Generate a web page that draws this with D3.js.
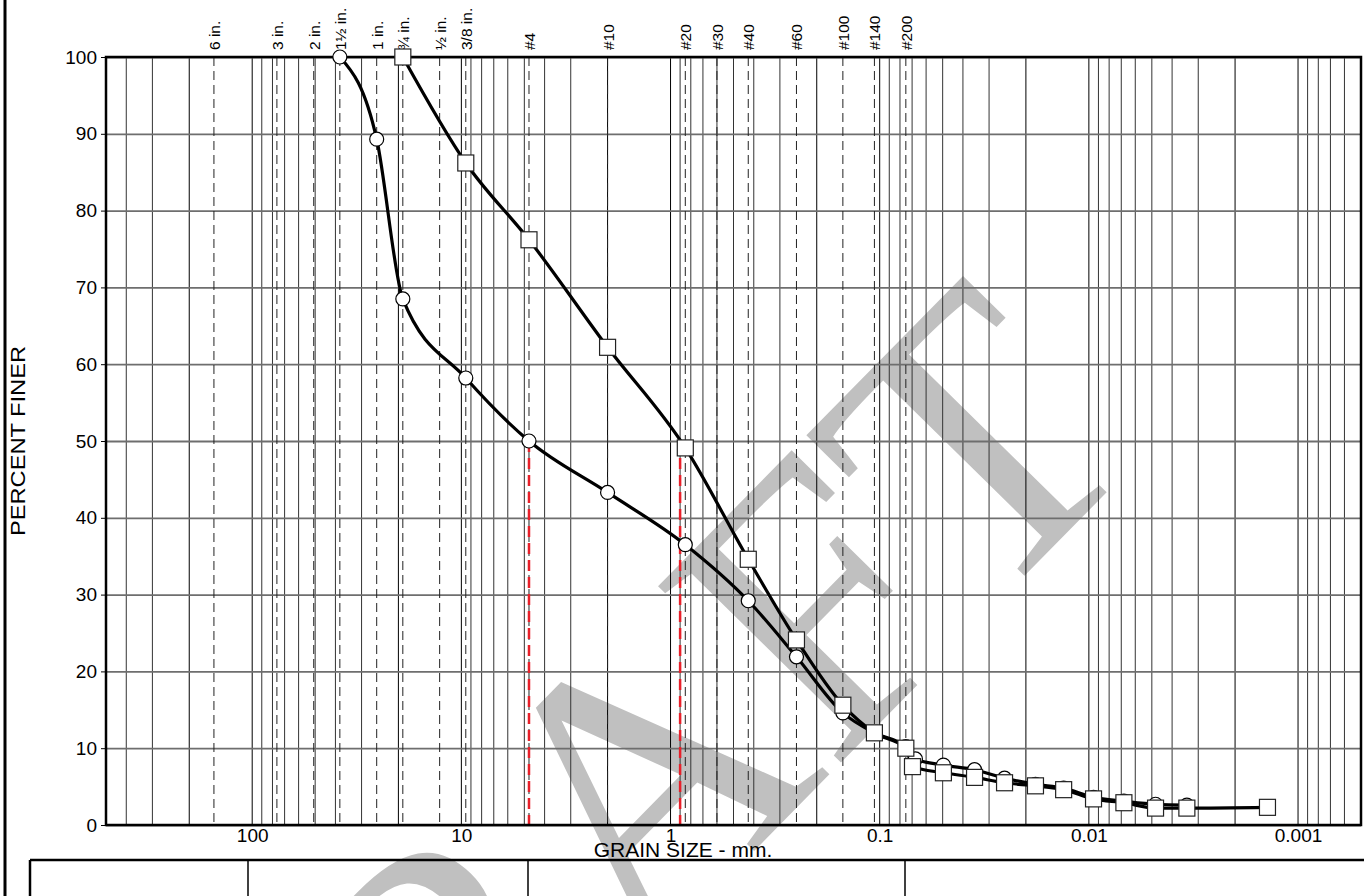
<!DOCTYPE html>
<html>
<head>
<meta charset="utf-8">
<script src="https://cdn.jsdelivr.net/npm/d3@7"></script>
<style>
  body { margin: 0; background: #fff; }
  svg { display: block; font-family: Arial, "Liberation Sans", sans-serif; }
</style>
</head>
<body>
<div id="chart"></div>
<script>
// Sieve openings (mm) and their labels along the top
const sieveSizes = [152.4, 76.2, 50.8, 38.1, 25.4, 19.05, 12.7, 9.525, 4.75, 2.0, 0.85, 0.6, 0.425, 0.25, 0.15, 0.106, 0.075];
const sieveLabels = ["6 in.", "3 in.", "2 in.", "1\u00BD in.", "1 in.", "\u00BE in.", "\u00BD in.", "3/8 in.", "#4", "#10", "#20", "#30", "#40", "#60", "#100", "#140", "#200"];

// Sample 1 (circles)
const sizes1 = [38.1, 25.4, 19.05, 9.525, 4.75, 2.0, 0.85, 0.425, 0.25, 0.15, 0.106, 0.075, 0.0675, 0.0496, 0.0352, 0.0253, 0.018, 0.0132, 0.0095, 0.0068, 0.0048, 0.0034];
const finer1 = [100, 89.3, 68.5, 58.2, 50.0, 43.3, 36.5, 29.2, 21.9, 14.6, 12.0, 10.2, 8.6, 7.8, 7.2, 6.1, 5.3, 4.8, 3.6, 3.1, 2.7, 2.6];

// Sample 2 (squares)
const sizes2 = [19.05, 9.525, 4.75, 2.0, 0.85, 0.425, 0.25, 0.15, 0.106, 0.075, 0.0697, 0.0496, 0.0352, 0.0253, 0.018, 0.0132, 0.0095, 0.0068, 0.0048, 0.0034, 0.0014];
const finer2 = [100, 86.2, 76.2, 62.2, 49.1, 34.6, 24.1, 15.6, 12.0, 10.0, 7.6, 6.8, 6.2, 5.5, 5.1, 4.6, 3.4, 2.9, 2.2, 2.2, 2.3];

// D50 of each sample (red markers)
const d50 = [4.75, 0.90];

// Axis ticks
const xTicks = [100, 10, 1, 0.1, 0.01, 0.001];
const xTickLabels = ["100", "10", "1", "0.1", "0.01", "0.001"];
const yTicks = [0, 10, 20, 30, 40, 50, 60, 70, 80, 90, 100];

const W = 1364, H = 896;
const plot = { left: 106, right: 1361, top: 57, bottom: 825 };

const svg = d3.select("#chart").append("svg")
    .attr("width", W)
    .attr("height", H);

const x = d3.scaleLog().domain([500, 0.0005]).range([plot.left, plot.right]);
const y = d3.scaleLinear().domain([0, 100]).range([plot.bottom, plot.top]);

// Watermark (under the grid)
svg.append("text")
    .attr("transform", "translate(703,903) rotate(-45.5)")
    .attr("text-anchor", "middle")
    .style("font-family", "'Liberation Serif', 'Times New Roman', serif")
    .style("font-size", "388px")
    .style("fill", "#c0c0c0")
    .text("DRAFT");

// Minor vertical grid: 1..9 in every decade
const gridVals = [];
for (let e = -4; e <= 2; e++) {
    for (let m = 1; m <= 9; m++) {
        const v = m * Math.pow(10, e);
        if (v <= 500 && v >= 0.0005) gridVals.push({ v: v, m: m });
    }
}
svg.append("g")
    .selectAll("line")
    .data(gridVals)
    .enter().append("line")
    .attr("x1", d => x(d.v)).attr("x2", d => x(d.v))
    .attr("y1", plot.top).attr("y2", plot.bottom)
    .style("stroke", d => (d.m === 1 || d.m === 2) ? "#000" : "#333")
    .style("stroke-width", 1);

// Horizontal grid
svg.append("g")
    .attr("transform", `translate(${plot.left},0)`)
    .call(d3.axisLeft(y).tickValues(yTicks).tickSize(-(plot.right - plot.left)).tickFormat(""))
    .call(g => g.select(".domain").remove())
    .selectAll("line")
    .style("stroke", "#6e6e6e")
    .style("stroke-width", 1.8);

// Sieve dashed lines
svg.append("g")
    .selectAll("line")
    .data(sieveSizes)
    .enter().append("line")
    .attr("x1", d => x(d)).attr("x2", d => x(d))
    .attr("y1", plot.top).attr("y2", plot.bottom)
    .style("stroke", "#222")
    .style("stroke-width", 1)
    .style("stroke-dasharray", "9,5");

// Sieve labels
svg.append("g")
    .selectAll("text")
    .data(sieveSizes)
    .enter().append("text")
    .attr("transform", d => `translate(${x(d) + 6},50) rotate(-90)`)
    .style("font-size", "15.5px")
    .text((d, i) => sieveLabels[i]);

// D50 red dashed lines
svg.append("g")
    .selectAll("line")
    .data(d50)
    .enter().append("line")
    .attr("x1", d => x(d)).attr("x2", d => x(d))
    .attr("y1", y(50)).attr("y2", plot.bottom)
    .style("stroke", "#e8202a")
    .style("stroke-width", 2.5)
    .style("stroke-dasharray", "11,6");

// Plot frame
svg.append("rect")
    .attr("x", plot.left).attr("y", plot.top)
    .attr("width", plot.right - plot.left)
    .attr("height", plot.bottom - plot.top)
    .style("fill", "none")
    .style("stroke", "#000")
    .style("stroke-width", 2.5);

// Y axis
svg.append("g")
    .attr("transform", `translate(${plot.left},0)`)
    .call(d3.axisLeft(y).tickValues(yTicks).tickSize(5).tickPadding(4))
    .call(g => g.select(".domain").remove())
    .call(g => g.selectAll("text").style("font-size", "19px").style("fill", "#000")
        .style("font-family", "Arial, 'Liberation Sans', sans-serif"));

// X axis labels
svg.append("g")
    .attr("transform", `translate(0,${plot.bottom})`)
    .call(d3.axisBottom(x).tickValues(xTicks).tickSize(0).tickPadding(4)
        .tickFormat((d, i) => xTickLabels[i]))
    .call(g => g.select(".domain").remove())
    .call(g => g.selectAll("text").style("font-size", "19px").style("fill", "#000")
        .style("font-family", "Arial, 'Liberation Sans', sans-serif"));

// Axis titles
svg.append("text")
    .attr("transform", `translate(25,${(plot.top + plot.bottom) / 2}) rotate(-90)`)
    .attr("text-anchor", "middle")
    .attr("textLength", 190)
    .attr("lengthAdjust", "spacingAndGlyphs")
    .style("font-size", "20px")
    .text("PERCENT FINER");

svg.append("text")
    .attr("x", 683)
    .attr("y", 857)
    .attr("text-anchor", "middle")
    .style("font-size", "21px")
    .text("GRAIN SIZE - mm.");

// Page border and table below
svg.append("line")
    .attr("x1", 5).attr("x2", 5).attr("y1", 0).attr("y2", H)
    .style("stroke", "#000").style("stroke-width", 3);
svg.append("line")
    .attr("x1", 30).attr("x2", W).attr("y1", 860).attr("y2", 860)
    .style("stroke", "#000").style("stroke-width", 2.5);
[30, 248, 528, 905].forEach(px => {
    svg.append("line")
        .attr("x1", px).attr("x2", px).attr("y1", 860).attr("y2", H)
        .style("stroke", "#000").style("stroke-width", px === 30 ? 2.5 : 1.5);
});

// Curves
const s1 = sizes1.map((d, i) => ({ d: d, p: finer1[i] }));
const s2 = sizes2.map((d, i) => ({ d: d, p: finer2[i] }));

const line = d3.line()
    .x(d => x(d.d))
    .y(d => y(d.p))
    .curve(d3.curveMonotoneX);

[s1, s2].forEach(s => {
    svg.append("path")
        .datum(s)
        .attr("d", line)
        .style("fill", "none")
        .style("stroke", "#000")
        .style("stroke-width", 3.2);
});

// Markers: circles first, squares on top
svg.append("g")
    .selectAll("circle")
    .data(s1)
    .enter().append("circle")
    .attr("cx", d => x(d.d))
    .attr("cy", d => y(d.p))
    .attr("r", 7)
    .style("fill", "#fff")
    .style("stroke", "#000")
    .style("stroke-width", 1.2);

svg.append("g")
    .selectAll("rect")
    .data(s2)
    .enter().append("rect")
    .attr("x", d => x(d.d) - 8)
    .attr("y", d => y(d.p) - 8)
    .attr("width", 16)
    .attr("height", 16)
    .style("fill", "#fff")
    .style("stroke", "#222")
    .style("stroke-width", 1.2);
</script>
</body>
</html>
